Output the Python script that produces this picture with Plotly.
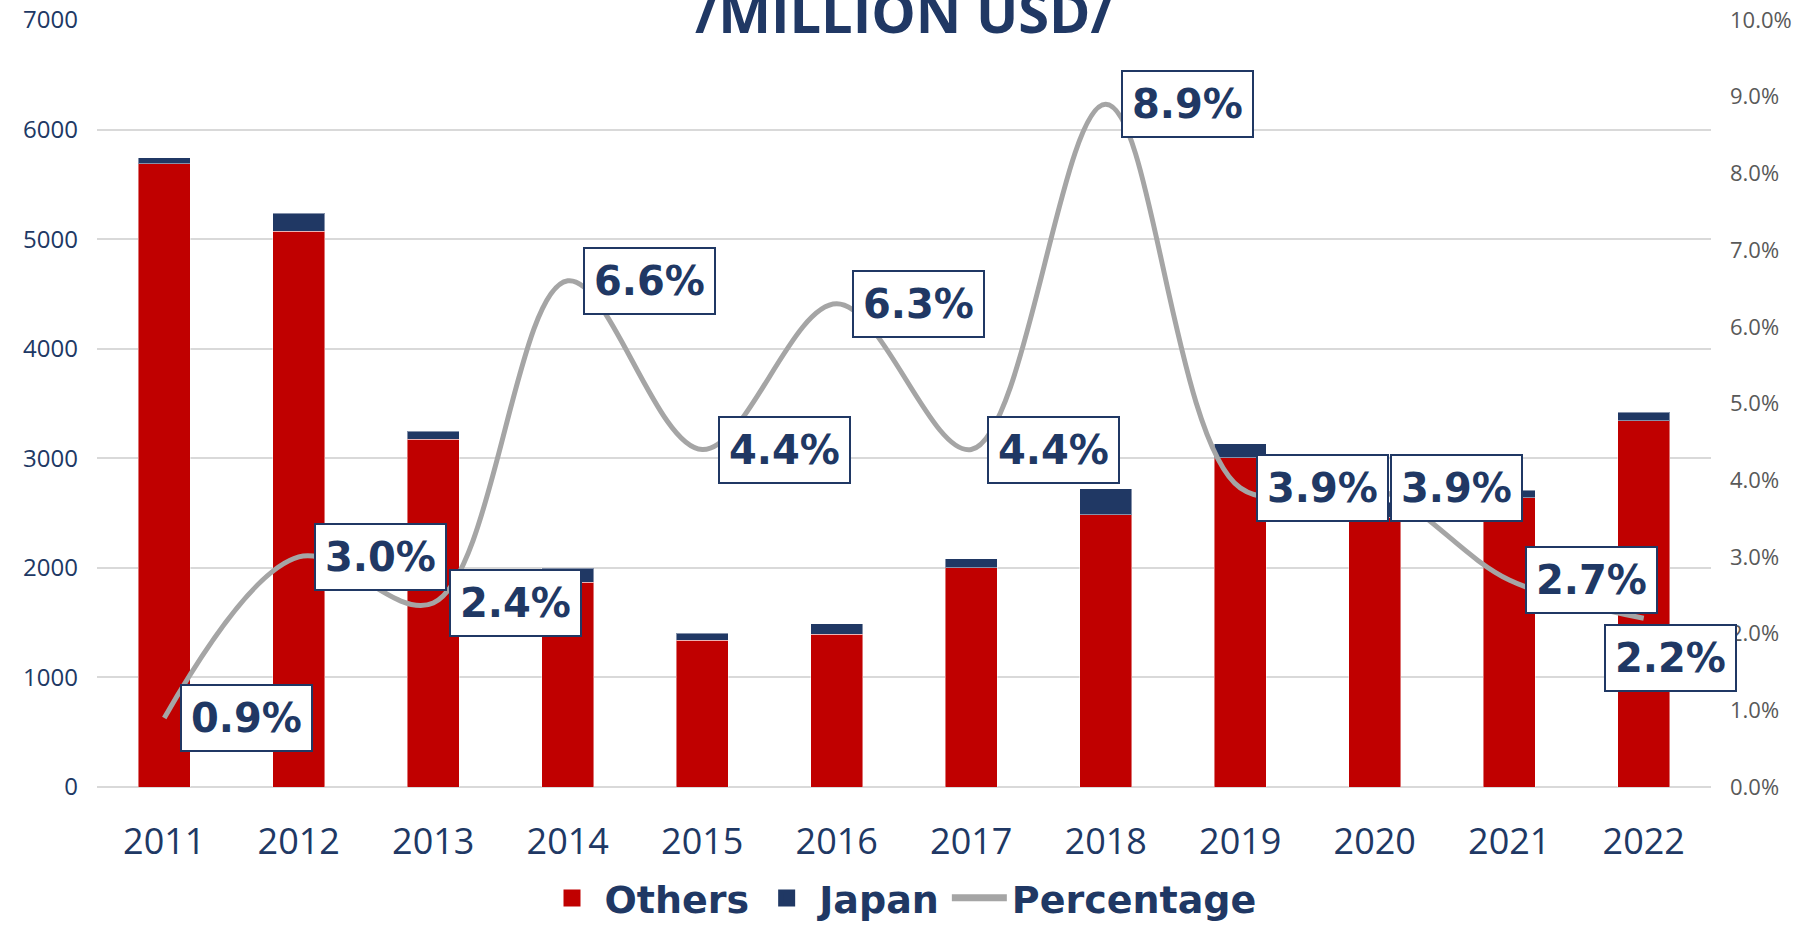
import plotly.graph_objects as go

years = ["2011", "2012", "2013", "2014", "2015", "2016", "2017", "2018", "2019", "2020", "2021", "2022"]
others = [5690, 5073, 3175, 1870, 1341, 1394, 2001, 2483, 3007, 2460, 2640, 3341]
japan = [55, 164, 73, 128, 63, 94, 84, 241, 126, 140, 70, 77]
percentage = [0.009, 0.030, 0.024, 0.066, 0.044, 0.063, 0.044, 0.089, 0.039, 0.039, 0.027, 0.022]

RED = "#C00000"
NAVY = "#203864"
GRAY_LINE = "#A5A5A5"
FONT = "Open Sans"
LABEL_FONT = "DejaVu Sans"

fig = go.Figure()
fig.add_trace(go.Bar(x=years, y=others, name="Others", showlegend=False,
                     marker=dict(color=RED, line=dict(color="rgba(255,255,255,0.45)", width=1)), yaxis="y"))
fig.add_trace(go.Bar(x=years, y=japan, name="Japan", showlegend=False,
                     marker=dict(color=NAVY, line=dict(color="rgba(255,255,255,0.45)", width=1)), yaxis="y"))
fig.add_trace(go.Scatter(x=years, y=percentage, name="Percentage", mode="lines", showlegend=False,
                         line=dict(color=GRAY_LINE, width=5, shape="spline", smoothing=1.0), yaxis="y2"))
# legend entries
fig.add_trace(go.Bar(x=[None], y=[None], name="Others", legendrank=1,
                     marker=dict(color=RED, line=dict(color=RED, width=10))))
fig.add_trace(go.Bar(x=[None], y=[None], name="Japan", legendrank=2,
                     marker=dict(color=NAVY, line=dict(color=NAVY, width=10))))
fig.add_trace(go.Scatter(x=[None], y=[None], name="Percentage", mode="lines", legendrank=3,
                         line=dict(color=GRAY_LINE, width=7)))

annotations = []
for i, p in enumerate(percentage):
    last = i == len(years) - 1
    annotations.append(dict(
        x=i, y=p, xref="x", yref="y2",
        text=f"{p*100:.1f}%",
        showarrow=False,
        xshift=27 if last else 82,
        yshift=-40 if last else 0,
        font=dict(family=LABEL_FONT, size=40, color=NAVY, weight="bold"),
        bgcolor="white", bordercolor=NAVY, borderwidth=2, borderpad=9,
    ))

annotations.append(dict(
    x=0.5, y=1.0, xref="paper", yref="paper", yanchor="middle", yshift=9,
    text="/MILLION USD/", showarrow=False,
    font=dict(family=FONT, size=56, color=NAVY, weight="bold"),
))

fig.update_layout(
    barmode="stack",
    bargap=0.61,
    width=1801, height=925,
    margin=dict(l=97, r=90, t=20, b=138),
    paper_bgcolor="white", plot_bgcolor="white",
    font=dict(family=FONT, color=NAVY),
    showlegend=True,
    legend=dict(orientation="h", x=0.5, xanchor="center", xref="container",
                y=0.029, yanchor="middle", yref="container",
                traceorder="normal",
                font=dict(family=LABEL_FONT, size=38, color=NAVY, weight="bold"),
                itemwidth=55, tracegroupgap=0),
    xaxis=dict(type="category", range=[-0.5, len(years) - 0.5], automargin=False,
               tickfont=dict(family=FONT, size=36, color=NAVY), showline=False, ticks="",
               showgrid=False, ticklabelstandoff=30),
    yaxis=dict(range=[0, 7000], dtick=1000, showgrid=True, gridcolor="#D9D9D9", gridwidth=1.5,
               zeroline=True, zerolinecolor="#D9D9D9", zerolinewidth=1.5, automargin=False,
               tickfont=dict(family=FONT, size=24, color=NAVY), ticks="", showline=False,
               ticklabelstandoff=18),
    yaxis2=dict(range=[0, 0.1], dtick=0.01, tickformat=".1%", overlaying="y", side="right",
                showgrid=False, zeroline=False, automargin=False,
                tickfont=dict(family=FONT, size=22, color="#595959"),
                ticks="", showline=False, ticklabelstandoff=18),
    annotations=annotations,
)

fig.write_html("out.html", config={"displayModeBar": False},
               post_script="document.body.style.margin='0';document.body.style.overflow='hidden';")
